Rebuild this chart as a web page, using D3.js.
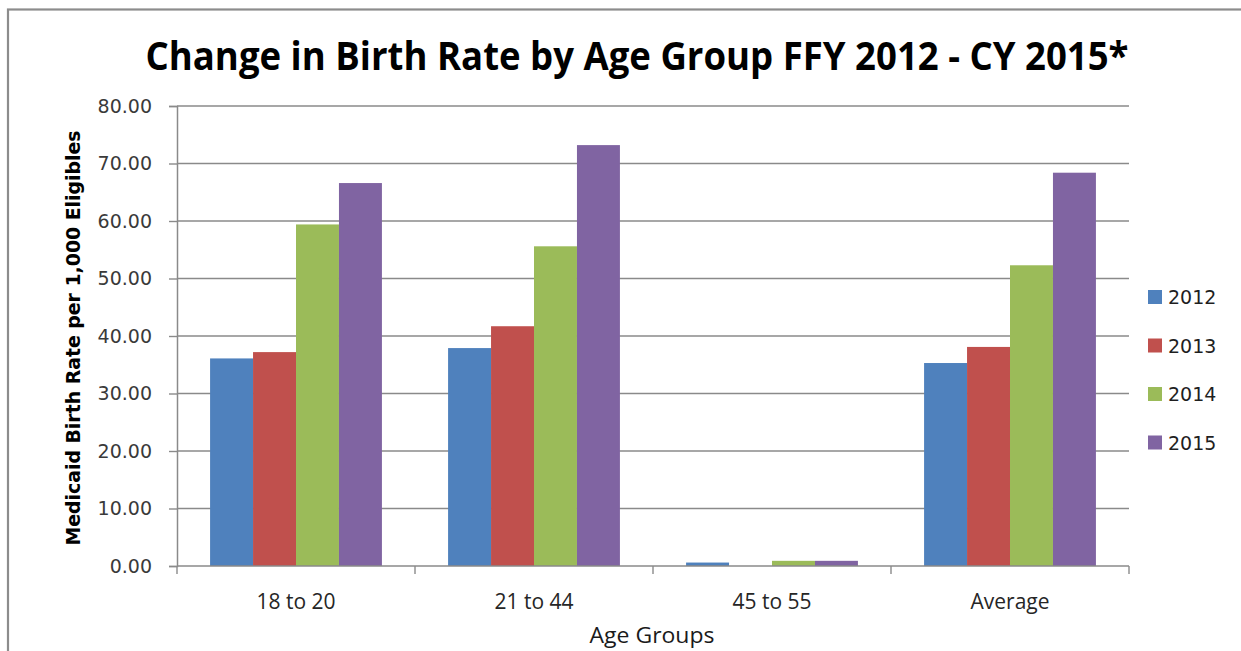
<!DOCTYPE html>
<html>
<head>
<meta charset="utf-8">
<script src="https://cdn.jsdelivr.net/npm/d3@7"></script>
<style>
  html, body { margin: 0; padding: 0; background: #ffffff; }
  svg { display: block; }
</style>
</head>
<body>
<svg id="chart" width="1241" height="651"></svg>
<script>
// Age groups on the x axis
const categories = ["18 to 20", "21 to 44", "45 to 55", "Average"];
// Series (years) shown in the legend
const seriesNames = ["2012", "2013", "2014", "2015"];
// Birth rate per 1,000 eligibles, one array per year
const values2012 = [36.1, 37.9, 0.6, 35.3];
const values2013 = [37.2, 41.7, 0.0, 38.1];
const values2014 = [59.4, 55.6, 0.9, 52.3];
const values2015 = [66.6, 73.2, 0.9, 68.4];
const yTicks = [0, 10, 20, 30, 40, 50, 60, 70, 80];
const colors = ["#4F81BD", "#C0504D", "#9BBB59", "#8064A2"];

const seriesValues = [values2012, values2013, values2014, values2015];

const svg = d3.select("#chart");

// Outer chart frame
svg.append("rect")
  .attr("x", 8).attr("y", 9.5)
  .attr("width", 1400).attr("height", 800)
  .attr("fill", "#ffffff")
  .attr("stroke", "#8c8c8c")
  .attr("stroke-width", 2.2);

const plot = { left: 177, right: 1129, top: 106, bottom: 566 };

const x0 = d3.scaleBand()
  .domain(categories)
  .range([plot.left, plot.right])
  .paddingInner(0).paddingOuter(0);

const x1 = d3.scaleBand()
  .domain(seriesNames)
  .range([0, x0.bandwidth()])
  .paddingInner(0)
  .paddingOuter(0.77);

const y = d3.scaleLinear()
  .domain([0, 80])
  .range([plot.bottom, plot.top]);

// Horizontal gridlines
svg.append("g")
  .selectAll("line")
  .data(yTicks.filter(t => t > 0))
  .join("line")
  .attr("x1", plot.left).attr("x2", plot.right)
  .attr("y1", d => y(d)).attr("y2", d => y(d))
  .attr("stroke", "#8a8a8a")
  .attr("stroke-width", 1.4);

// Bars
const groups = svg.append("g")
  .selectAll("g")
  .data(categories)
  .join("g")
  .attr("transform", d => `translate(${x0(d)},0)`);

groups.selectAll("rect")
  .data((cat, ci) => seriesNames.map((s, si) => ({ s, si, v: seriesValues[si][ci] })))
  .join("rect")
  .attr("x", d => x1(d.s))
  .attr("width", x1.bandwidth())
  .attr("y", d => y(d.v))
  .attr("height", d => y(0) - y(d.v))
  .attr("fill", d => colors[d.si]);

// Y axis
const yAxis = d3.axisLeft(y)
  .tickValues(yTicks)
  .tickSize(8)
  .tickPadding(17)
  .tickFormat(d3.format(".2f"));

const gy = svg.append("g")
  .attr("transform", `translate(${plot.left},0)`)
  .call(yAxis);
gy.select(".domain").attr("stroke", "#8a8a8a").attr("stroke-width", 1.5);
gy.selectAll(".tick line").attr("stroke", "#8a8a8a").attr("stroke-width", 1.4);
gy.selectAll(".tick text")
  .attr("font-family", "Verdana, 'DejaVu Sans', sans-serif")
  .attr("font-size", 19)
  .attr("fill", "#3a3a3a");

// X axis: ticks sit on the category boundaries
const gx = svg.append("g");
gx.append("line")
  .attr("x1", plot.left).attr("x2", plot.right)
  .attr("y1", plot.bottom).attr("y2", plot.bottom)
  .attr("stroke", "#8a8a8a").attr("stroke-width", 1.5);
const boundaries = categories.map(c => x0(c)).concat([x0(categories[categories.length - 1]) + x0.bandwidth()]);
gx.selectAll("line.tick")
  .data(boundaries)
  .join("line")
  .attr("class", "tick")
  .attr("x1", d => d).attr("x2", d => d)
  .attr("y1", plot.bottom).attr("y2", plot.bottom + 8)
  .attr("stroke", "#8a8a8a").attr("stroke-width", 1.4);

const narrowFont = "'Liberation Sans Narrow', 'Open Sans', 'Noto Sans', sans-serif";

gx.selectAll("text.cat")
  .data(categories)
  .join("text")
  .attr("class", "cat")
  .attr("x", d => x0(d) + x0.bandwidth() / 2)
  .attr("y", 609)
  .attr("text-anchor", "middle")
  .attr("font-family", narrowFont)
  .attr("font-size", 21)
  .attr("fill", "#262626")
  .text(d => d);

// Axis titles
svg.append("text")
  .attr("x", 652).attr("y", 643)
  .attr("text-anchor", "middle")
  .attr("font-family", narrowFont)
  .attr("font-size", 22)
  .attr("fill", "#1a1a1a")
  .attr("textLength", 125)
  .attr("lengthAdjust", "spacingAndGlyphs")
  .text("Age Groups");

svg.append("text")
  .attr("transform", "translate(80,338) rotate(-90)")
  .attr("text-anchor", "middle")
  .attr("font-family", "'DejaVu Sans Condensed', 'DejaVu Sans', sans-serif")
  .attr("font-weight", "bold")
  .attr("font-size", 19)
  .attr("fill", "#000000")
  .attr("textLength", 415)
  .attr("lengthAdjust", "spacingAndGlyphs")
  .text("Medicaid  Birth Rate per 1,000 Eligibles");

// Title
svg.append("text")
  .attr("x", 637).attr("y", 70)
  .attr("text-anchor", "middle")
  .attr("font-family", narrowFont)
  .attr("font-weight", "bold")
  .attr("font-size", 40)
  .attr("fill", "#000000")
  .attr("textLength", 983)
  .attr("lengthAdjust", "spacingAndGlyphs")
  .text("Change in Birth Rate by Age Group  FFY 2012 - CY 2015*");

// Legend
const legend = svg.append("g")
  .selectAll("g")
  .data(seriesNames)
  .join("g")
  .attr("transform", (d, i) => `translate(1148,${290 + i * 48.5})`);
legend.append("rect")
  .attr("width", 14).attr("height", 14)
  .attr("fill", (d, i) => colors[i]);
legend.append("text")
  .attr("x", 20).attr("y", 14)
  .attr("font-family", "Verdana, 'DejaVu Sans', sans-serif")
  .attr("font-size", 19)
  .attr("fill", "#1f1f1f")
  .text(d => d);
</script>
</body>
</html>
